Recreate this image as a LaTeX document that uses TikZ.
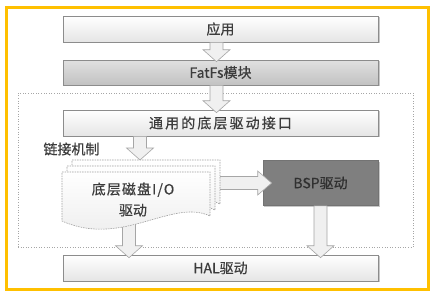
\documentclass[tikz,border=0pt]{standalone}
\usepackage{fontspec}
\setmainfont{Noto Sans CJK SC}[FakeBold=0.6]
\usetikzlibrary{calc}
\definecolor{frameor}{HTML}{FFC000}
\definecolor{boxline}{HTML}{8C8C8C}
\definecolor{txt}{HTML}{3C3C3C}
\definecolor{arrline}{HTML}{A6A6A6}
\definecolor{arrfill}{HTML}{F0F0F0}
\definecolor{bspfill}{HTML}{7F7F7F}
\definecolor{bsptxt}{HTML}{303030}
\definecolor{docline}{HTML}{A0A0A0}
\definecolor{shadowc}{HTML}{C8C8C8}
\tikzset{
  lay/.style={draw=boxline, line width=0.6pt, minimum width=315pt, text=txt,
    font=\fontsize{14}{16}\selectfont, inner sep=0pt},
  lightbox/.style={lay, top color=white, bottom color=black!10},
  graybox/.style={lay, top color=black!12, bottom color=black!24},
  darr/.style={draw=arrline, fill=arrfill, line width=0.6pt, line join=miter,
    to path={let \p1=(\tikztostart), \p2=(\tikztotarget) in
      (\x1-6.5pt,\y1) -- (\x1-6.5pt,\y2+12pt) -- (\x1-13.5pt,\y2+12pt) -- (\x1,\y2)
      -- (\x1+13.5pt,\y2+12pt) -- (\x1+6.5pt,\y2+12pt) -- (\x1+6.5pt,\y1) -- cycle}},
  rarr/.style={draw=arrline, fill=arrfill, line width=0.6pt, line join=miter,
    to path={let \p1=(\tikztostart), \p2=(\tikztotarget) in
      (\x1,\y1+6.5pt) -- (\x2-14pt,\y1+6.5pt) -- (\x2-14pt,\y1+12pt) -- (\x2,\y1)
      -- (\x2-14pt,\y1-12pt) -- (\x2-14pt,\y1-6.5pt) -- (\x1,\y1-6.5pt) -- cycle}},
  docsheet/.style={draw=docline, dashed, dash pattern=on 1.5pt off 1pt, line width=0.6pt,
    top color=white, bottom color=black!8},
  lbl/.style={text=txt, font=\fontsize{14}{16}\selectfont, inner sep=0pt},
  shadowbox/.style={fill=shadowc}
}
\newcommand{\docpath}[2]{%
  (62+#1,172+#2) -- (210+#1,172+#2) -- (210+#1,216+#2)
  .. controls (172+#1,198+#2) and (122+#1,248+#2) .. (62+#1,221+#2) -- cycle}
\begin{document}
\begin{tikzpicture}[x=1pt,y=-1pt]
\useasboundingbox (0,0) rectangle (438,297);
\fill[white] (0,0) rectangle (438,297);
\draw[frameor, line width=3pt] (6.5,7.5) rectangle (428,289.5);

% dotted group
\node[draw=black!35, dotted, line width=0.6pt, minimum width=395pt, minimum height=154pt, inner sep=0pt] (grp) at (215.5,170) {};

% shadows
\fill[shadowbox] (64,17) rectangle (379.5,43);
\fill[shadowbox] (64,61) rectangle (379.5,86);
\fill[shadowbox] (64,111) rectangle (379.5,137);
\fill[shadowbox] (64,256) rectangle (379.5,282);
\fill[shadowbox] (264,161.5) rectangle (379.5,206.5);

% boxes
\node[lightbox, minimum height=26pt] (app) at (220.5,29) {应用};
\node[graybox, minimum height=25pt] (fat) at (220.5,72.5) {FatFs模块};
\node[lightbox, minimum height=26pt] (gen) at (220.5,123) {\addfontfeature{LetterSpace=15}通用的底层驱动接口};
\node[lightbox, minimum height=26pt] (hal) at (220.5,268) {HAL驱动};
\node[draw=black!55, fill=bspfill, line width=0.6pt, minimum width=115pt, minimum height=45pt, inner sep=0pt] (bsp) at (320.5,183) {};

\node[lbl] (lnk) at (71.5,149) {链接机制};

% anchor coordinates
\coordinate (ax) at (216.5,0);
\coordinate (docin) at (140,160);
\coordinate (docout) at (129,222);
\coordinate (docr) at (212,183);

% arrows
\draw[darr] (app.south -| ax) to ($(fat.north -| ax)+(0,2)$);
\draw[darr] (fat.south -| ax) to ($(gen.north -| ax)+(0,3)$);
\draw[darr] (gen.south -| docin) to (docin);
\draw[darr] (docout) to ($(hal.north -| docout)+(0,3)$);
\draw[darr] (bsp.south) to ($(hal.north -| bsp.south)+(0,3)$);
\draw[rarr] (docr) to ($(bsp.west)+(9,0)$);

% document stack
\path[docsheet] \docpath{10}{-12};
\path[docsheet] \docpath{5}{-6};
\path[docsheet] \docpath{0}{0};
\node[lbl, align=center, font=\fontsize{14}{21}\selectfont] (doc) at (133,199.5) {\addfontfeature{LetterSpace=8}底层磁盘I/O\\驱动};
\node[lbl, text=bsptxt] (bsplbl) at (bsp.center) {BSP驱动};
\end{tikzpicture}
\end{document}
